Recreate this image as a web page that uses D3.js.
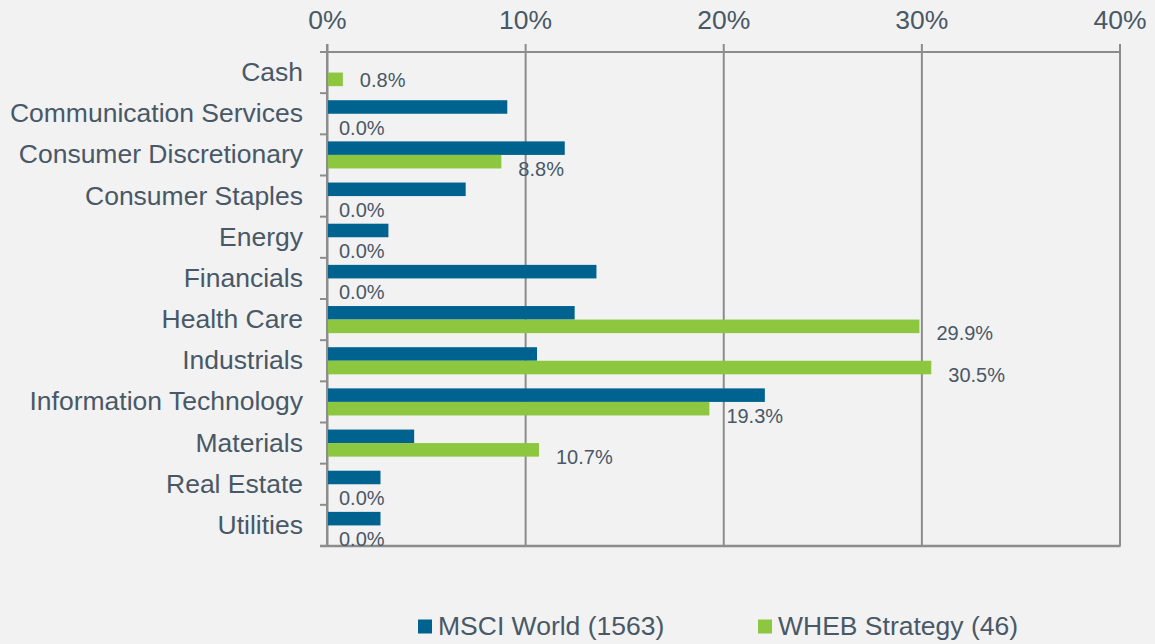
<!DOCTYPE html>
<html>
<head>
<meta charset="utf-8">
<script src="https://cdn.jsdelivr.net/npm/d3@7"></script>
<style>
  body { margin: 0; background: #f2f2f2; }
  text { font-family: "Liberation Sans", Arial, sans-serif; fill: #495866; }
</style>
</head>
<body>
<div id="chart"></div>
<script>
const categories = ["Cash", "Communication Services", "Consumer Discretionary", "Consumer Staples",
    "Energy", "Financials", "Health Care", "Industrials", "Information Technology",
    "Materials", "Real Estate", "Utilities"];
const seriesNames = ["MSCI World (1563)", "WHEB Strategy (46)"];
const msciWorld = [0, 9.1, 12.0, 7.0, 3.1, 13.6, 12.5, 10.6, 22.1, 4.4, 2.7, 2.7];
const whebStrategy = [0.8, 0, 8.8, 0, 0, 0, 29.9, 30.5, 19.3, 10.7, 0, 0];
const xTicks = [0, 10, 20, 30, 40];
const colors = ["#00638f", "#8dc63f"];

const width = 1155;
const height = 644;
const plotLeft = 327, plotRight = 1119.5, plotTop = 52, plotBottom = 546;

const svg = d3.select("#chart")
    .append("svg")
    .attr("width", width)
    .attr("height", height)
    .style("display", "block");

svg.append("rect").attr("width", width).attr("height", height).attr("fill", "#f2f2f2");

const x = d3.scaleLinear().domain([0, 40]).range([plotLeft, plotRight]);
const y = d3.scaleBand().domain(categories).range([plotTop, plotBottom]).padding(0);
const ySub = d3.scaleBand().domain([0, 1]).range([0, y.bandwidth()]).paddingInner(0).paddingOuter(0.52);

// top axis labels + vertical grid
const xAxis = svg.append("g")
    .attr("transform", "translate(0,44)")
    .call(d3.axisTop(x).tickValues(xTicks).tickFormat(d => d + "%")
        .tickSizeInner(-(plotBottom - 44)).tickSizeOuter(0).tickPadding(15));
xAxis.select(".domain").remove();
xAxis.selectAll("line").attr("stroke", "#8c8c8c").attr("stroke-width", 2);
xAxis.selectAll("text").attr("font-size", 26.5).style("fill", "#495866");

// horizontal frame lines
svg.append("line").attr("x1", 320).attr("x2", plotRight).attr("y1", plotTop).attr("y2", plotTop)
    .attr("stroke", "#8c8c8c").attr("stroke-width", 2);
svg.append("line").attr("x1", 320).attr("x2", plotRight + 1).attr("y1", plotBottom).attr("y2", plotBottom)
    .attr("stroke", "#8c8c8c").attr("stroke-width", 2.5);

// bars
const rows = categories.map((c, i) => ({ cat: c, vals: [msciWorld[i], whebStrategy[i]] }));
const groups = svg.selectAll(".row")
    .data(rows)
    .enter()
    .append("g")
    .attr("class", "row")
    .attr("transform", d => "translate(0," + y(d.cat) + ")");

groups.selectAll("rect")
    .data(d => d.vals.map((v, s) => ({ v, s })))
    .enter()
    .append("rect")
    .attr("x", x(0))
    .attr("y", d => ySub(d.s))
    .attr("width", d => x(d.v) - x(0))
    .attr("height", ySub.bandwidth())
    .attr("fill", d => colors[d.s]);

// data labels for WHEB series
groups.append("text")
    .attr("x", d => x(d.vals[1]) + (d.vals[1] > 0 ? 17 : 12))
    .attr("y", d => ySub(1) + ySub.bandwidth() / 2 + (d.vals[0] > 0 ? 7 : 1))
    .attr("dy", "0.35em")
    .attr("font-size", 20)
    .text(d => d.vals[1].toFixed(1) + "%");

// left axis: category labels + boundary ticks
const yAxis = svg.append("g")
    .attr("transform", "translate(" + plotLeft + ",0)")
    .call(d3.axisLeft(y).tickSize(0).tickPadding(24));
yAxis.select(".domain").remove();
yAxis.selectAll("text").attr("font-size", 26.5).style("fill", "#495866");

svg.selectAll(".ytick")
    .data(categories.slice(1))
    .enter()
    .append("line")
    .attr("x1", 320).attr("x2", plotLeft)
    .attr("y1", d => y(d)).attr("y2", d => y(d))
    .attr("stroke", "#8c8c8c").attr("stroke-width", 2);

svg.append("line").attr("x1", x(0)).attr("x2", x(0)).attr("y1", 44).attr("y2", plotBottom)
    .attr("stroke", "#8c8c8c").attr("stroke-width", 2);

// legend
const legendX = [418, 758];
const legend = svg.selectAll(".legend")
    .data(seriesNames)
    .enter()
    .append("g")
    .attr("class", "legend")
    .attr("transform", (d, i) => "translate(" + legendX[i] + ",619.5)");

legend.append("rect")
    .attr("width", 14)
    .attr("height", 14)
    .attr("fill", (d, i) => colors[i]);

legend.append("text")
    .attr("x", 20)
    .attr("y", 15.5)
    .attr("font-size", 26.5)
    .text(d => d);
</script>
</body>
</html>
